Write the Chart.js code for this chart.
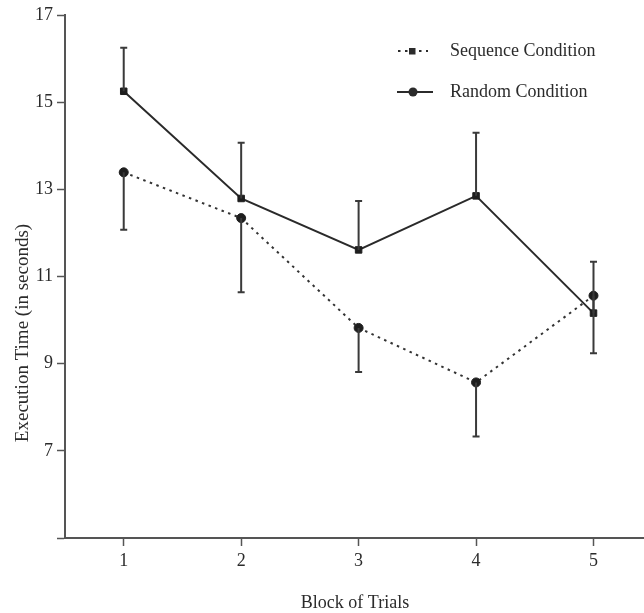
<!DOCTYPE html>
<html>
<head>
<meta charset="utf-8">
<script src="https://cdn.jsdelivr.net/npm/chart.js@4/dist/chart.umd.min.js"></script>
<style>
  html, body { margin: 0; padding: 0; background: #fff; }
  canvas { display: block; }
</style>
</head>
<body>
<canvas id="chart" width="644" height="613"></canvas>
<script>
// data
const blocks = [1, 2, 3, 4, 5];
const sequenceMeans = [13.39, 12.34, 9.82, 8.57, 10.56];   // dotted line
const sequenceErrors = [1.32, 1.70, 1.01, 1.24, 1.32];     // bars drawn downward
const randomMeans = [15.25, 12.79, 11.61, 12.85, 10.16];   // solid line
const randomErrors = [1.00, 1.28, 1.12, 1.45, 1.18];       // bars drawn upward
const yTicks = [5, 7, 9, 11, 13, 15, 17];
const seriesNames = ['Sequence Condition', 'Random Condition'];
const xTitle = 'Block of Trials';
const yTitle = 'Execution Time (in seconds)';

const FONT = '"Liberation Serif", "Times New Roman", serif';
const INK = '#2b2b2b';

const toPoints = (ys) => blocks.map((b, i) => ({ x: b, y: ys[i] }));

// error bars, drawn through the scales
const errorBars = {
  id: 'errorBars',
  afterDatasetsDraw(chart) {
    const { ctx, scales: { x, y } } = chart;
    ctx.save();
    ctx.strokeStyle = '#3a3a3a';
    ctx.lineWidth = 2;
    chart.data.datasets.forEach((ds) => {
      ds.data.forEach((p, i) => {
        const px = x.getPixelForValue(p.x);
        const y0 = y.getPixelForValue(p.y);
        const y1 = y.getPixelForValue(p.y + ds.errDir * ds.errors[i]);
        ctx.beginPath();
        ctx.moveTo(px, y0);
        ctx.lineTo(px, y1);
        ctx.moveTo(px - 3.5, y1);
        ctx.lineTo(px + 3.5, y1);
        ctx.stroke();
      });
    });
    ctx.restore();
  }
};

// legend + axis titles
const decorations = {
  id: 'decorations',
  afterDraw(chart) {
    const ctx = chart.ctx;
    ctx.save();
    ctx.fillStyle = INK;
    ctx.strokeStyle = INK;
    ctx.font = '18px ' + FONT;
    ctx.textBaseline = 'middle';

    // Sequence row: dotted line, square marker
    ctx.lineWidth = 2;
    ctx.setLineDash([2.5, 4.5]);
    ctx.beginPath();
    ctx.moveTo(398, 51);
    ctx.lineTo(428, 51);
    ctx.stroke();
    ctx.setLineDash([]);
    ctx.fillRect(409, 48, 6.5, 6.5);
    ctx.fillText(seriesNames[0], 450, 51);

    // Random row: solid line, circle marker
    ctx.beginPath();
    ctx.moveTo(397, 92);
    ctx.lineTo(433, 92);
    ctx.stroke();
    ctx.beginPath();
    ctx.arc(413, 92, 4.5, 0, Math.PI * 2);
    ctx.fill();
    ctx.fillText(seriesNames[1], 450, 92);

    // axis titles
    ctx.textAlign = 'center';
    ctx.fillText(xTitle, 355, 603);
    ctx.translate(23, 333);
    ctx.rotate(-Math.PI / 2);
    ctx.font = '19px ' + FONT;
    ctx.fillText(yTitle, 0, 0);
    ctx.restore();
  }
};

new Chart(document.getElementById('chart'), {
  type: 'line',
  data: {
    datasets: [
      {
        label: seriesNames[0],
        data: toPoints(sequenceMeans),
        errors: sequenceErrors,
        errDir: -1,
        borderColor: '#333',
        borderWidth: 2,
        borderDash: [2.5, 4.5],
        pointStyle: 'circle',
        pointRadius: 4.5,
        pointBackgroundColor: '#1e1e1e',
        pointBorderColor: '#1e1e1e',
        pointBorderWidth: 1,
        tension: 0
      },
      {
        label: seriesNames[1],
        data: toPoints(randomMeans),
        errors: randomErrors,
        errDir: 1,
        borderColor: '#2a2a2a',
        borderWidth: 2,
        pointStyle: 'rect',
        pointRadius: 4.6,
        pointBackgroundColor: '#1e1e1e',
        pointBorderColor: '#1e1e1e',
        pointBorderWidth: 1,
        tension: 0
      }
    ]
  },
  options: {
    responsive: false,
    animation: false,
    layout: { autoPadding: false, padding: { top: 15, right: 0, bottom: 0, left: 0 } },
    plugins: {
      legend: { display: false },
      tooltip: { enabled: false },
      title: { display: false }
    },
    scales: {
      x: {
        type: 'linear',
        min: 0.5,
        max: 5.43,
        afterBuildTicks: (scale) => { scale.ticks = blocks.map(v => ({ value: v })); },
        afterFit: (scale) => {
          scale.height = 75;
          scale.paddingLeft = 0;
          scale.paddingRight = 0;
        },
        grid: { drawOnChartArea: false, tickLength: 8, color: '#555', tickWidth: 1.5 },
        border: { color: '#555', width: 2 },
        ticks: { color: INK, font: { family: FONT, size: 18 }, padding: 4, maxRotation: 0 }
      },
      y: {
        min: 5,
        max: 17,
        afterBuildTicks: (scale) => { scale.ticks = yTicks.map(v => ({ value: v })); },
        afterFit: (scale) => { scale.width = 65; },
        grid: { drawOnChartArea: false, tickLength: 8, color: '#555', tickWidth: 1.5 },
        border: { color: '#555', width: 2 },
        ticks: {
          color: INK,
          font: { family: FONT, size: 18 },
          padding: 4,
          callback: (v) => (v === 5 ? '' : v)
        }
      }
    }
  },
  plugins: [errorBars, decorations]
});
</script>
</body>
</html>
